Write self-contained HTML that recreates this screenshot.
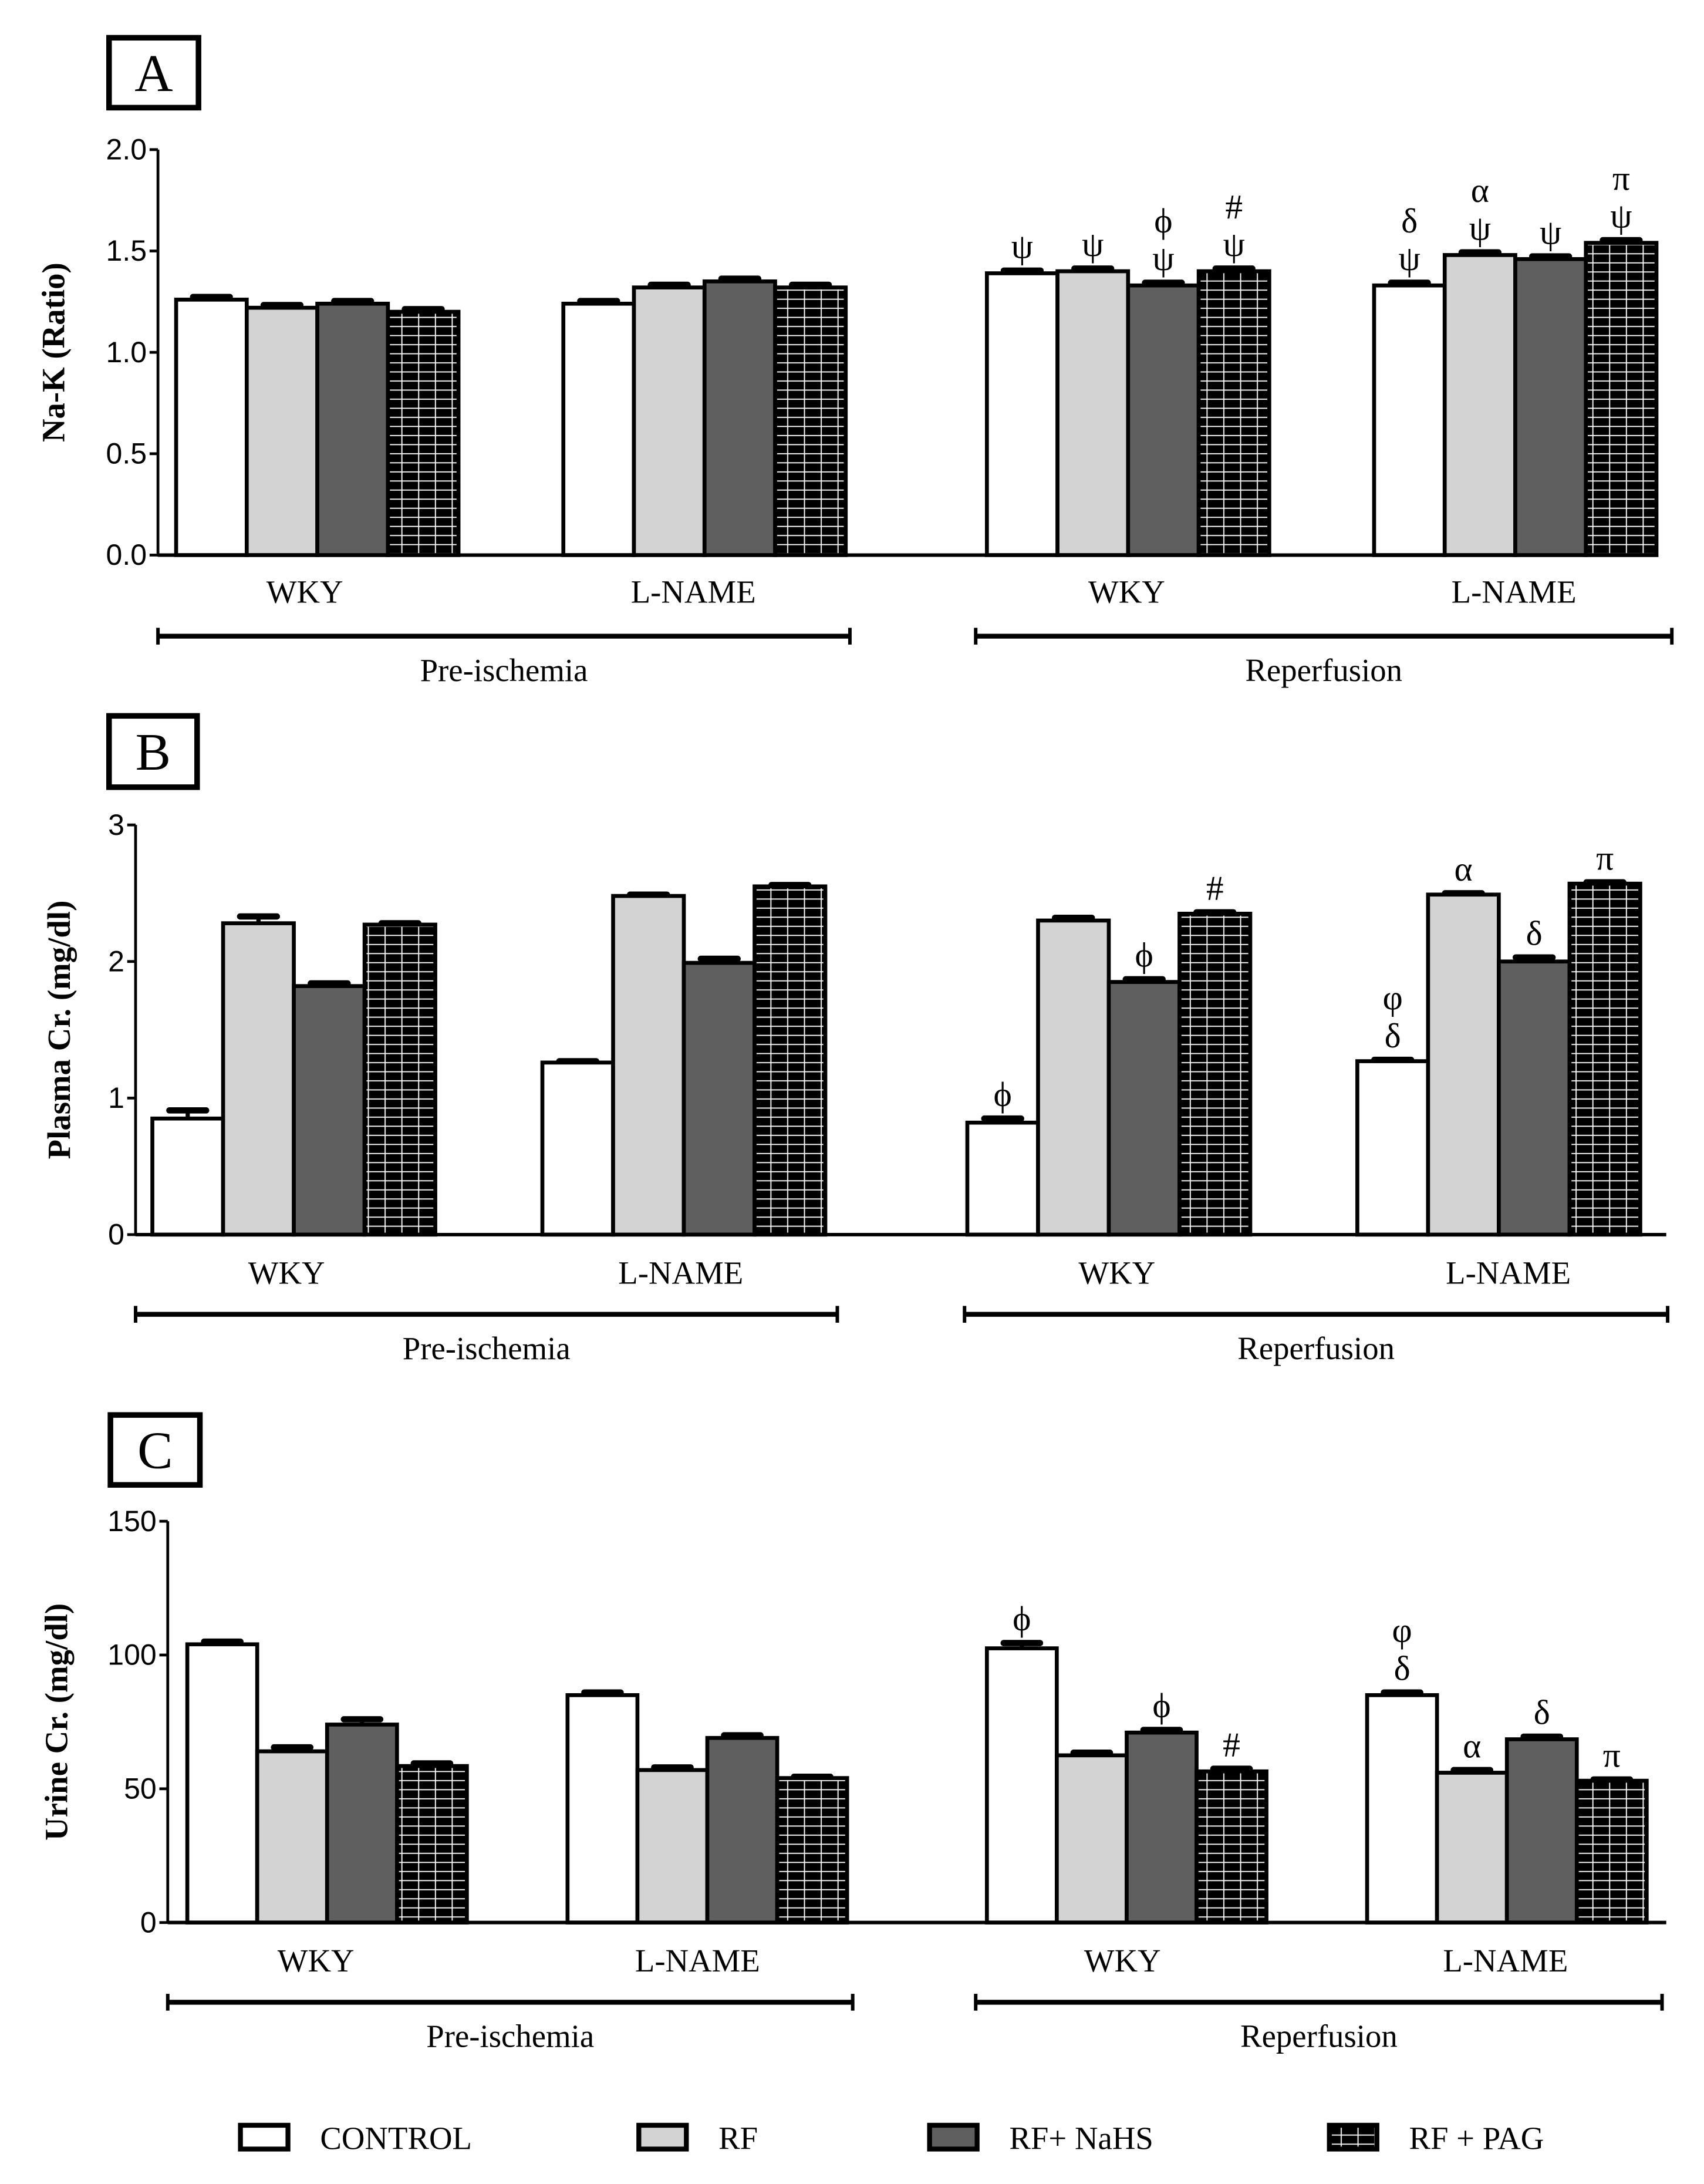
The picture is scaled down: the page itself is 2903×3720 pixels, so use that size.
<!DOCTYPE html>
<html><head><meta charset="utf-8"><style>
html,body{margin:0;padding:0;background:#fff;}
svg{display:block;}
text{font-family:"Liberation Serif",serif;fill:#000;}
.tick{font-family:"Liberation Sans",sans-serif;font-size:21px;}
.cat{font-size:23px;}
.ann{font-size:25px;}
.ylab{font-family:"Liberation Serif",serif;font-weight:bold;font-size:23px;}
</style></head><body>
<svg id="chart" width="2903" height="3720" viewBox="0 0 1219 1562" preserveAspectRatio="none" xmlns="http://www.w3.org/2000/svg">
<defs>
<pattern id="grid" width="12" height="6.5" patternUnits="userSpaceOnUse">
<rect width="12" height="6.5" fill="#000"/>
<line x1="0" y1="6" x2="12" y2="6" stroke="#fff" stroke-width="0.8"/>
<line x1="11.5" y1="0" x2="11.5" y2="6.5" stroke="#fff" stroke-width="0.8"/>
</pattern>
</defs>
<g id="root"></g>
</svg>
<script>
// ---- data ----
const groups = ["WKY","L-NAME","WKY","L-NAME"];
const series = ["CONTROL","RF","RF+ NaHS","RF + PAG"];
const periods = ["Pre-ischemia","Reperfusion"];
// Panel A: Na-K ratio
const naK = [[1.26,1.22,1.24,1.20],[1.24,1.32,1.35,1.32],[1.39,1.40,1.33,1.40],[1.33,1.48,1.46,1.54]];
const naKErr = [[0.02,0.02,0.02,0.02],[0.02,0.02,0.02,0.02],[0.02,0.02,0.02,0.02],[0.02,0.02,0.02,0.02]];
const naKTicks = [0,0.5,1.0,1.5,2.0];
const naKTickLabels = ["0.0","0.5","1.0","1.5","2.0"];
// Panel B: Plasma creatinine
const plasma = [[0.85,2.28,1.82,2.27],[1.26,2.48,1.99,2.55],[0.82,2.30,1.85,2.35],[1.27,2.49,2.00,2.57]];
const plasmaErr = [[0.07,0.06,0.03,0.02],[0.02,0.02,0.04,0.02],[0.04,0.03,0.03,0.02],[0.02,0.02,0.04,0.02]];
const plasmaTicks = [0,1,2,3];
const plasmaTickLabels = ["0","1","2","3"];
// Panel C: Urine creatinine
const urine = [[104,64,74,58.5],[85,57,69,54],[102.5,62.5,71,56.5],[85,56,68.5,53]];
const urineErr = [[1.5,2,2.5,1.5],[1.5,1.5,1.5,1],[2.5,1.5,1.5,1.5],[1.5,1.5,1.5,1]];
const urineTicks = [0,50,100,150];
const urineTickLabels = ["0","50","100","150"];
// annotations: [group, bar, lines bottom->top]
const naKAnn = [[2,0,["ψ"]],[2,1,["ψ"]],[2,2,["ψ","ϕ"]],[2,3,["ψ","#"]],[3,0,["ψ","δ"]],[3,1,["ψ","α"]],[3,2,["ψ"]],[3,3,["ψ","π"]]];
const plasmaAnn = [[2,0,["ϕ"]],[2,2,["ϕ"]],[2,3,["#"]],[3,0,["δ","φ"]],[3,1,["α"]],[3,2,["δ"]],[3,3,["π"]]];
const urineAnn = [[2,0,["ϕ"]],[2,2,["ϕ"]],[2,3,["#"]],[3,0,["δ","φ"]],[3,1,["α"]],[3,2,["δ"]],[3,3,["π"]]];

const NS="http://www.w3.org/2000/svg";
const root=document.getElementById('root');
function el(tag,attrs,parent,txt){const e=document.createElementNS(NS,tag);for(const k in attrs)e.setAttribute(k,attrs[k]);if(txt!==undefined)e.textContent=txt;(parent||root).appendChild(e);return e;}
const fills=["#fff","#d3d3d3","#5f5f5f","url(#grid)"];

function panel(cfg){
  const g=el('g',{});
  
  
  const y=v=>cfg.y0-(v/cfg.max)*(cfg.y0-cfg.yTop);
  const lb=el('rect',{x:cfg.box[0],y:cfg.box[1],width:cfg.box[2],height:cfg.box[3],fill:'#fff',stroke:'#000','stroke-width':4},g);
  
  
  const lt=el('text',{x:cfg.box[0]+cfg.box[2]/2,y:cfg.box[1]+cfg.box[3]/2+13,'text-anchor':'middle','font-size':38},g,cfg.letter);
  
  
  cfg.data.forEach((grp,gi)=>{grp.forEach((v,bi)=>{
    const x0=cfg.starts[gi]+bi*cfg.bw;
    const top=y(v);
    const r=el('rect',{x:x0,y:top,width:cfg.bw,height:cfg.y0-top,fill:fills[bi],stroke:'#000','stroke-width':2.8},g);
    
    
    const et=y(v+cfg.err[gi][bi]);
    const cx=x0+cfg.bw/2;
    const e1=el('line',{x1:cx,y1:top,x2:cx,y2:et,stroke:'#000','stroke-width':3},g);
    
    
    const e2=el('line',{x1:cx-cfg.bw*0.26,y1:et+1,x2:cx+cfg.bw*0.26,y2:et+1,stroke:'#000','stroke-width':4.5,'stroke-linecap':'round'},g);
    
    
  });});
  cfg.ann.forEach(a=>{
    const gi=a[0],bi=a[1];
    const v=cfg.data[gi][bi];
    const base=y(v+cfg.err[gi][bi])-cfg.annGap;
    a[2].forEach((s,k)=>{
      const t=el('text',{x:cfg.starts[gi]+bi*cfg.bw+cfg.bw/2,y:base-k*27,'text-anchor':'middle',class:'ann'},g,s);
      
      
    });
  });
  const ya=el('line',{x1:cfg.ax,y1:cfg.yTop,x2:cfg.ax,y2:cfg.y0+1,stroke:'#000','stroke-width':2},g);
  
  
  const xa=el('line',{x1:cfg.ax,y1:cfg.y0,x2:cfg.xEnd,y2:cfg.y0,stroke:'#000','stroke-width':2.5},g);
  
  
  cfg.ticks.forEach((tv,i)=>{
    el('line',{x1:cfg.ax-6,y1:y(tv),x2:cfg.ax,y2:y(tv),stroke:'#000','stroke-width':2},g);
    const t=el('text',{x:cfg.ax-8,y:y(tv)+7,'text-anchor':'end',class:'tick'},g,cfg.tickLabels[i]);
    
    
  });
  const yl=el('text',{x:0,y:0,'text-anchor':'middle',class:'ylab',transform:`translate(${cfg.ylx},${(cfg.yTop+cfg.y0)/2}) rotate(-90)`},g,cfg.ylabel);
  
  
  groups.forEach((name,gi)=>{
    const t=el('text',{x:cfg.catX[gi],y:cfg.catY,'text-anchor':'middle',class:'cat'},g,name);
    
    
  });
  cfg.brackets.forEach((b,i)=>{
    el('line',{x1:b[0],y1:cfg.brY,x2:b[1],y2:cfg.brY,stroke:'#000','stroke-width':3.5},g);
    el('line',{x1:b[0],y1:cfg.brY-6,x2:b[0],y2:cfg.brY+6,stroke:'#000','stroke-width':2.5},g);
    el('line',{x1:b[1],y1:cfg.brY-6,x2:b[1],y2:cfg.brY+6,stroke:'#000','stroke-width':2.5},g);
    const t=el('text',{x:(b[0]+b[1])/2,y:cfg.brY+32,'text-anchor':'middle',class:'cat'},g,periods[i]);
    
    
  });
}

panel({letter:'A',box:[78,27,64,50],data:naK,err:naKErr,ann:naKAnn,max:2,yTop:107,y0:397,ax:113,xEnd:1177,
  starts:[126,403,706,983],bw:50.5,ticks:naKTicks,tickLabels:naKTickLabels,ylabel:'Na-K (Ratio)',ylx:46,annGap:8,
  catX:[218,496,806,1083],catY:431,brY:455,brackets:[[113,608],[698,1196]]});
panel({letter:'B',box:[78,512,63,51],data:plasma,err:plasmaErr,ann:plasmaAnn,max:3,yTop:590,y0:883,ax:97,xEnd:1192,
  starts:[109,388,692,971],bw:50.6,ticks:plasmaTicks,tickLabels:plasmaTickLabels,ylabel:'Plasma Cr. (mg/dl)',ylx:50,annGap:8,
  catX:[205,487,799,1079],catY:918,brY:940,brackets:[[97,599],[690,1193]]});
panel({letter:'C',box:[79,1012,64,50],data:urine,err:urineErr,ann:urineAnn,max:150,yTop:1088,y0:1375,ax:120,xEnd:1192,
  starts:[134,406,706,978],bw:50,ticks:urineTicks,tickLabels:urineTickLabels,ylabel:'Urine Cr. (mg/dl)',ylx:48,annGap:8,
  catX:[226,499,803,1077],catY:1410,brY:1432,brackets:[[120,610],[698,1189]]});

const legX=[172,457,665,951];
const lg=el('g',{});


series.forEach((s,i)=>{
  const r=el('rect',{x:legX[i],y:1520,width:34,height:17,fill:fills[i],stroke:'#000','stroke-width':3.5},lg);
  
  
  const t=el('text',{x:legX[i]+57,y:1537,class:'cat'},lg,s);
  
  
});
</script>
</body></html>
